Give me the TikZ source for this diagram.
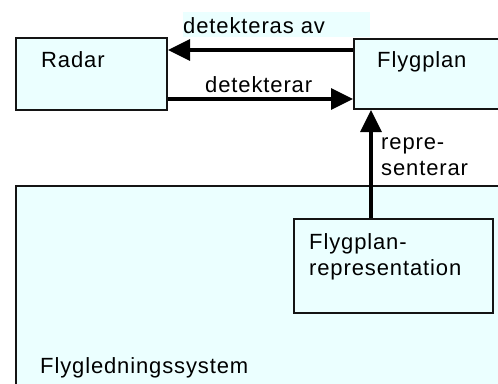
\documentclass[tikz,border=0pt]{standalone}
\usepackage{fontspec}
\setmainfont{Liberation Sans}[LetterSpace=4]
\usetikzlibrary{arrows.meta,calc}
\definecolor{boxfill}{RGB}{235,255,255}
\definecolor{edge}{RGB}{20,20,20}
\begin{document}
\begin{tikzpicture}[x=1pt,y=-1pt,
  box/.style={draw=edge,line width=2pt,fill=boxfill,rectangle,inner sep=0pt,anchor=north west},
  lbl/.style={anchor=base west,inner sep=0pt,font=\fontsize{22}{26}\selectfont,align=left},
  rel/.style={line width=3.5pt,-{Triangle[length=22pt,width=21pt]}}]
\useasboundingbox (0,0) rectangle (498,383);
\clip (0,0) rectangle (498,383);
% shaded backdrop of the upper association label
\fill[boxfill] (183,12) rectangle (370,37);
% classes
\node[box,minimum width=151pt,minimum height=72pt] (radar) at (15,37) {};
\node[box,minimum width=170pt,minimum height=70pt] (fp) at (353,38) {};
\node[box,minimum width=500pt,minimum height=230pt] (sys) at (15,185) {};
\node[box,minimum width=199pt,minimum height=94pt] (rep) at (293,218) {};
% class names (multi-line labels are placed by their last baseline)
\node[lbl] (tradar) at (41,67) {Radar};
\node[lbl] (tfp) at (377,67) {Flygplan};
\node[lbl] (trep) at (309,275) {Flygplan-\\representation};
\node[lbl] (tsys) at (40,373) {Flygledningssystem};
% association labels
\node[lbl] (lav) at (183,33) {detekteras av};
\node[lbl] (ldet) at (205,92) {detekterar};
\node[lbl] (lrep) at (381,175) {repre-\\senterar};
% associations
\draw[rel] ($(fp.north west)+(0,12)$) -- ($(radar.north east)+(0,13)$);
\draw[rel] ($(radar.south east)+(0,-12)$) -- ($(fp.south west)+(0,-11)$);
\draw[rel] ($(rep.north west)+(78,0)$) -- ($(fp.south west)+(18,0)$);
\end{tikzpicture}
\end{document}
